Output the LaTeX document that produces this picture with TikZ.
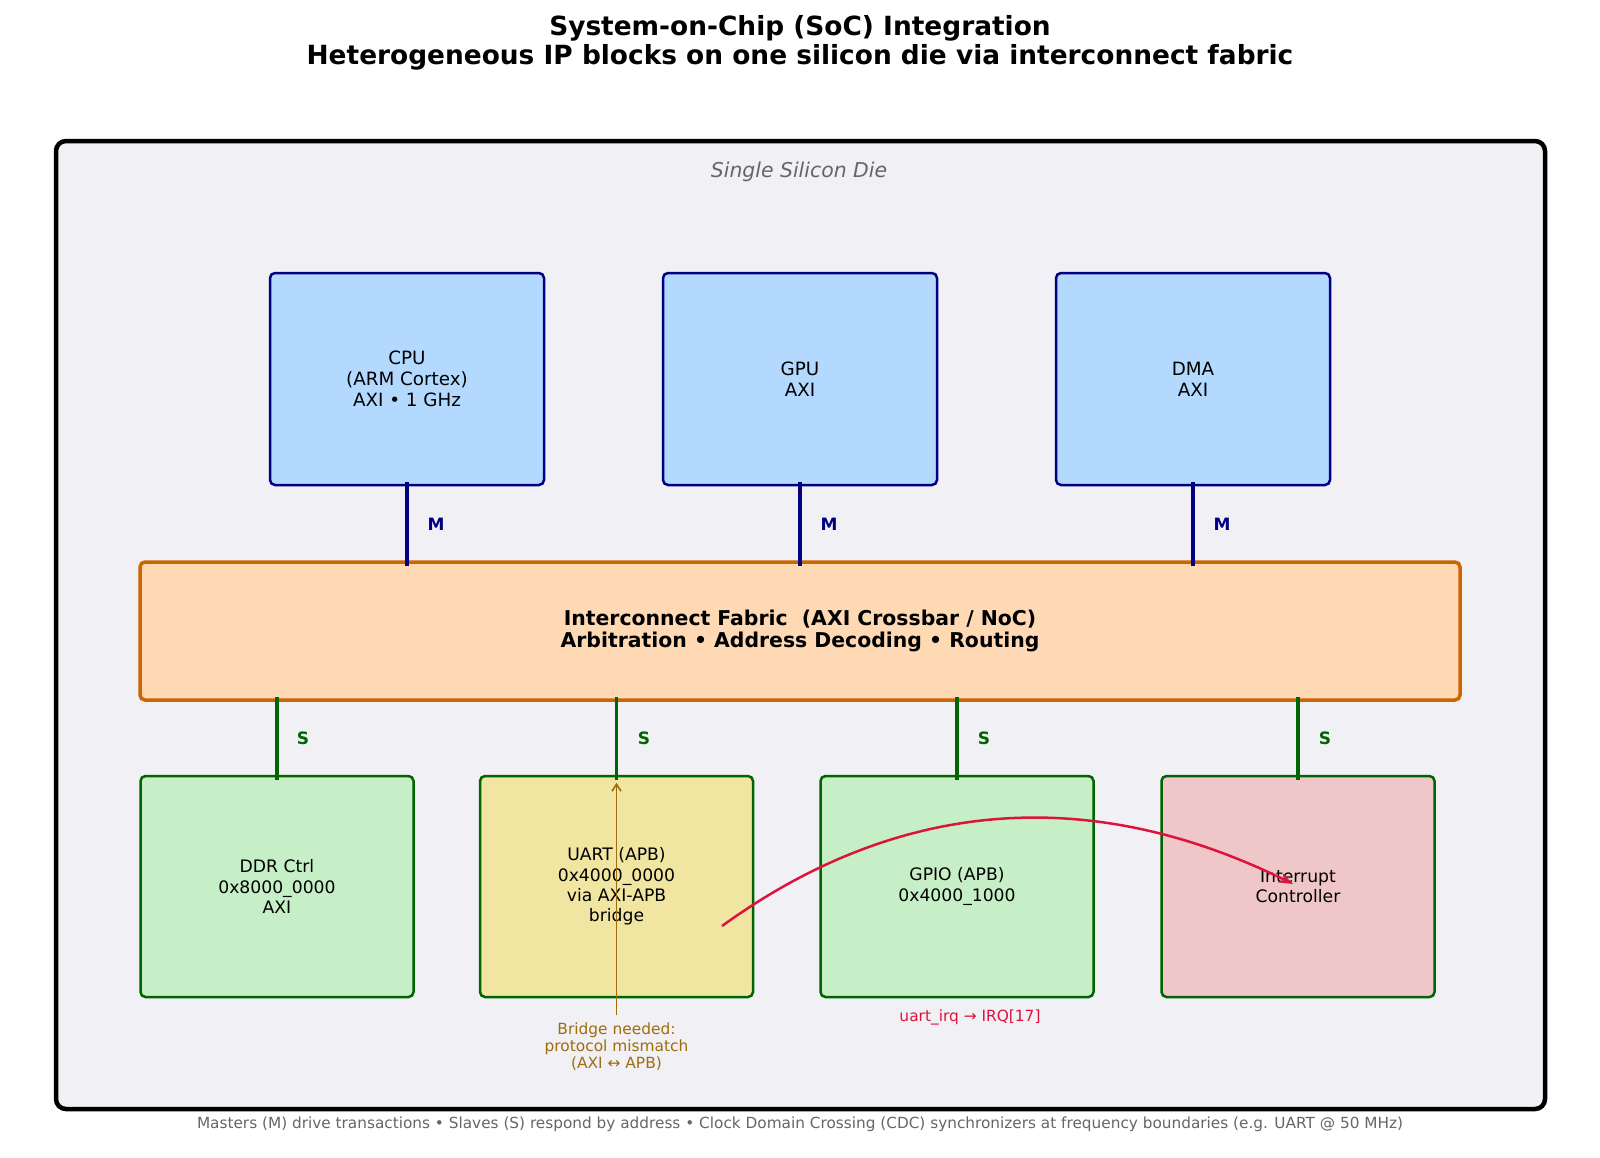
\documentclass[tikz,border=0pt]{standalone}
\usepackage{fontspec}
\setmainfont{DejaVu Sans}
\usetikzlibrary{arrows.meta}
\definecolor{diefill}{RGB}{240,240,245}
\definecolor{topfill}{RGB}{179,217,255}
\definecolor{topdraw}{RGB}{0,0,128}
\definecolor{fabfill}{RGB}{254,217,180}
\definecolor{fabdraw}{RGB}{204,102,0}
\definecolor{grnfill}{RGB}{199,239,199}
\definecolor{grndraw}{RGB}{0,100,0}
\definecolor{uartfill}{RGB}{240,230,162}
\definecolor{irqfill}{RGB}{239,199,200}
\definecolor{bridgecol}{RGB}{160,108,12}
\definecolor{irqcol}{RGB}{220,20,60}
\definecolor{notegray}{RGB}{102,102,102}
\tikzset{
  die/.style={draw=black, line width=4.5pt, fill=diefill, rounded corners=10pt, minimum width=1489pt, minimum height=968pt, inner sep=0pt},
  topbox/.style={draw=topdraw, line width=2.5pt, fill=topfill, rounded corners=5pt, minimum width=274pt, minimum height=212pt, align=center, inner sep=0pt, font=\fontsize{18.3}{21}\selectfont},
  fabbox/.style={draw=fabdraw, line width=3.5pt, fill=fabfill, rounded corners=5pt, minimum width=1320pt, minimum height=138pt, align=center, inner sep=0pt, font=\bfseries\fontsize{20.4}{22.4}\selectfont},
  botbox/.style={draw=grndraw, line width=2.5pt, rounded corners=5pt, minimum width=273pt, minimum height=221pt, align=center, inner sep=0pt, font=\fontsize{17.2}{20.4}\selectfont},
  mline/.style={draw=topdraw, line width=3.2pt, shorten <=-4pt, shorten >=-6pt},
  sline/.style={draw=grndraw, line width=3.2pt, shorten <=-5pt, shorten >=-5pt},
  mlab/.style={text=topdraw, font=\bfseries\fontsize{17}{20}\selectfont, inner sep=0pt},
  slab/.style={text=grndraw, font=\bfseries\fontsize{17}{20}\selectfont, inner sep=0pt},
  smallnote/.style={align=center, inner sep=0pt, font=\fontsize{15.4}{17}\selectfont},
}
\begin{document}
\begin{tikzpicture}[x=1pt,y=-1pt]
\useasboundingbox (0,0) rectangle (1600,1157);
\fill[white] (0,0) rectangle (1600,1157);

\node[align=center, inner sep=0pt, font=\bfseries\fontsize{26.4}{29.6}\selectfont] (title) at (800,43)
  {System-on-Chip (SoC) Integration\\Heterogeneous IP blocks on one silicon die via interconnect fabric};

\node[die] (die) at (800.5,625) {};
\node[inner sep=0pt, text=notegray, font=\itshape\fontsize{20.4}{23}\selectfont] (dielab) at (799,172) {Single Silicon Die};

\node[topbox] (cpu) at (407,379) {CPU\\(ARM Cortex)\\AXI • 1 GHz};
\node[topbox] (gpu) at (800,379) {GPU\\AXI};
\node[topbox] (dma) at (1193,379) {DMA\\AXI};

\node[fabbox] (fab) at (800,631) {Interconnect Fabric\ \ (AXI Crossbar / NoC)\\Arbitration • Address Decoding • Routing};

\node[botbox, fill=grnfill] (ddr) at (277,886.5) {DDR Ctrl\\0x8000\_0000\\AXI};
\node[botbox, fill=uartfill] (uart) at (616.5,886.5) {UART (APB)\\0x4000\_0000\\via AXI-APB\\bridge};
\node[botbox, fill=grnfill] (gpio) at (957,886.5) {GPIO (APB)\\0x4000\_1000};
\node[botbox, fill=irqfill] (irq) at (1298,886.5) {Interrupt\\Controller};

\draw[mline] (cpu.south) -- (cpu.south |- fab.north);
\draw[mline] (gpu.south) -- (gpu.south |- fab.north);
\draw[mline] (dma.south) -- (dma.south |- fab.north);
\node[mlab] (m1) at (436,524) {M};
\node[mlab] (m2) at (829,524) {M};
\node[mlab] (m3) at (1222,524) {M};

\draw[sline] (fab.south -| ddr.north) -- (ddr.north);
\draw[sline] (fab.south -| uart.north) -- (uart.north);
\draw[sline] (fab.south -| gpio.north) -- (gpio.north);
\draw[sline] (fab.south -| irq.north) -- (irq.north);
\node[slab] (s1) at (303,738) {S};
\node[slab] (s2) at (644,738) {S};
\node[slab] (s3) at (984,738) {S};
\node[slab] (s4) at (1325,738) {S};

\coordinate (bstart) at (616.5,1015);
\draw[bridgecol, line width=1.6pt, -{Straight Barb[length=7pt,width=9pt]}] (bstart) -- ([yshift=-8pt]uart.north);
\node[smallnote, text=bridgecol] (bridgelab) at (616.5,1047) {Bridge needed:\\protocol mismatch\\(AXI ↔ APB)};

\coordinate (irqA) at (722,926);
\coordinate (irqB) at (1293,884);
\draw[irqcol, line width=2.5pt, -{Stealth[length=14pt,width=10pt]}] (irqA) .. controls (899,798) and (1090,784) .. (irqB);
\node[smallnote, text=irqcol] (irqlab) at (970,1017) {uart\_irq → IRQ[17]};

\node[inner sep=0pt, text=notegray, font=\fontsize{15.3}{17}\selectfont] (footer) at (800,1124)
  {Masters (M) drive transactions • Slaves (S) respond by address • Clock Domain Crossing (CDC) synchronizers at frequency boundaries (e.g. UART @ 50 MHz)};
\end{tikzpicture}
\end{document}
